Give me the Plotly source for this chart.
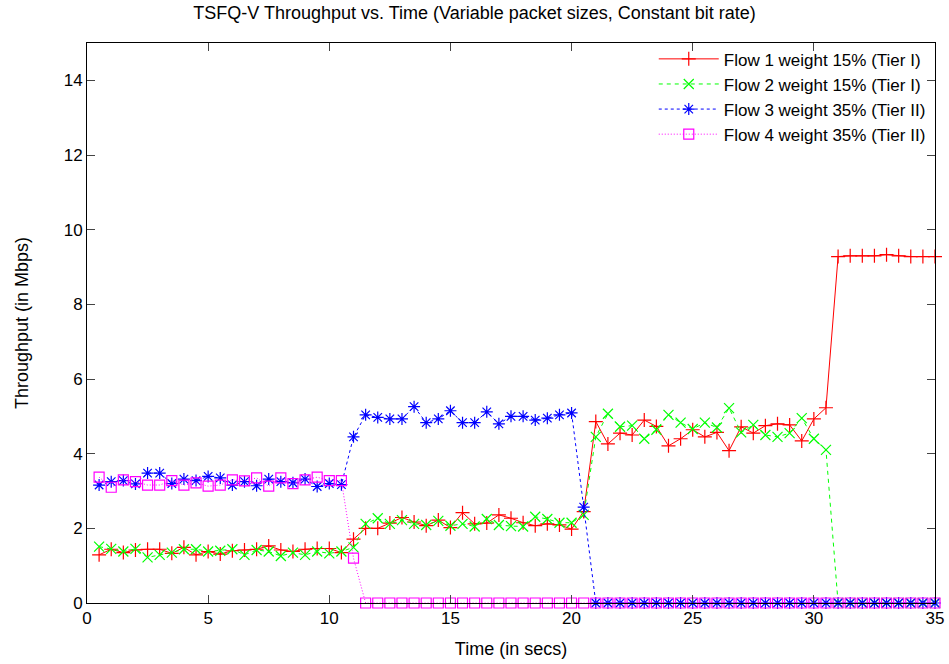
import plotly.graph_objects as go

time_s = [i * 0.5 for i in range(1, 71)]  # 0.5 .. 35.0

flow1 = [1.29, 1.44, 1.35, 1.42, 1.44, 1.44, 1.33, 1.49, 1.29, 1.38,
         1.31, 1.40, 1.42, 1.44, 1.53, 1.42, 1.38, 1.44, 1.46, 1.46,
         1.35, 1.71, 2.00, 2.00, 2.14, 2.29, 2.17, 2.07, 2.22, 2.02,
         2.42, 2.12, 2.14, 2.36, 2.27, 2.15, 2.07, 2.12, 2.09, 1.98,
         2.45, 4.86, 4.26, 4.55, 4.50, 4.90, 4.73, 4.21, 4.40, 4.64,
         4.45, 4.57, 4.08, 4.72, 4.55, 4.75, 4.80, 4.77, 4.34, 4.93,
         5.23, 9.28, 9.30, 9.30, 9.30, 9.33, 9.30, 9.28, 9.28, 9.28]

flow2 = [1.51, 1.45, 1.38, 1.45, 1.22, 1.29, 1.35, 1.44, 1.44, 1.38,
         1.40, 1.44, 1.29, 1.42, 1.38, 1.26, 1.35, 1.29, 1.38, 1.33,
         1.38, 1.49, 2.12, 2.27, 2.12, 2.22, 2.12, 2.09, 2.20, 2.07,
         2.12, 2.05, 2.25, 2.09, 2.06, 2.05, 2.31, 2.25, 2.15, 2.15,
         2.36, 4.45, 5.07, 4.72, 4.75, 4.40, 4.64, 5.04, 4.83, 4.66,
         4.83, 4.70, 5.22, 4.57, 4.77, 4.50, 4.45, 4.55, 4.95, 4.40,
         4.10, 0.00, 0.00, 0.00, 0.00, 0.00, 0.00, 0.00, 0.00, 0.00]

flow3 = [3.16, 3.25, 3.28, 3.19, 3.48, 3.48, 3.20, 3.32, 3.28, 3.39,
         3.35, 3.16, 3.25, 3.14, 3.32, 3.25, 3.22, 3.32, 3.12, 3.20,
         3.17, 4.45, 5.04, 4.97, 4.93, 4.93, 5.26, 4.83, 4.93, 5.15,
         4.83, 4.83, 5.12, 4.80, 5.00, 5.00, 4.90, 4.95, 5.04, 5.09,
         2.57, 0.00, 0.00, 0.00, 0.00, 0.00, 0.00, 0.00, 0.00, 0.00,
         0.00, 0.00, 0.00, 0.00, 0.00, 0.00, 0.00, 0.00, 0.00, 0.00,
         0.00, 0.00, 0.00, 0.00, 0.00, 0.00, 0.00, 0.00, 0.00, 0.00]

flow4 = [3.37, 3.10, 3.30, 3.25, 3.16, 3.16, 3.28, 3.16, 3.22, 3.13,
         3.16, 3.30, 3.27, 3.35, 3.13, 3.35, 3.20, 3.30, 3.37, 3.28,
         3.28, 1.20, 0.00, 0.00, 0.00, 0.00, 0.00, 0.00, 0.00, 0.00,
         0.00, 0.00, 0.00, 0.00, 0.00, 0.00, 0.00, 0.00, 0.00, 0.00,
         0.00, 0.00, 0.00, 0.00, 0.00, 0.00, 0.00, 0.00, 0.00, 0.00,
         0.00, 0.00, 0.00, 0.00, 0.00, 0.00, 0.00, 0.00, 0.00, 0.00,
         0.00, 0.00, 0.00, 0.00, 0.00, 0.00, 0.00, 0.00, 0.00, 0.00]

series_names = ["Flow 1 weight 15% (Tier I)", "Flow 2 weight 15% (Tier I)",
                "Flow 3 weight 35% (Tier II)", "Flow 4 weight 35% (Tier II)"]
x_ticks = [0, 5, 10, 15, 20, 25, 30, 35]
y_ticks = [0, 2, 4, 6, 8, 10, 12, 14]

styles = [
    dict(color="#ff0000", dash="solid", symbol="cross-thin-open", size=10),
    dict(color="#00ff00", dash="4px,4px", symbol="x-thin-open", size=10),
    dict(color="#0000ff", dash="3px,3px", symbol="asterisk-open", size=10),
    dict(color="#ff00ff", dash="1px,2px", symbol="square-open", size=10),
]

fig = go.Figure()
for name, ys, st in zip(series_names, [flow1, flow2, flow3, flow4], styles):
    fig.add_trace(go.Scatter(
        x=time_s, y=ys, name=name, mode="lines+markers", cliponaxis=False,
        line=dict(color=st["color"], dash=st["dash"], width=1),
        marker=dict(symbol=st["symbol"], size=st["size"],
                    line=dict(color=st["color"], width=1.2), color=st["color"]),
    ))

font = "Liberation Sans, Arial, sans-serif"
fig.update_layout(
    width=949, height=664,
    paper_bgcolor="white", plot_bgcolor="white",
    margin=dict(l=87, r=14, t=43, b=61, autoexpand=False),
    font=dict(family=font, size=17, color="black"),
    title=dict(text="TSFQ-V Throughput vs. Time (Variable packet sizes, Constant bit rate)",
               x=0.5, xanchor="center", y=0.99, yanchor="top",
               font=dict(size=18)),
    legend=dict(x=0.995, xanchor="right", y=1.003, yanchor="top",
                bgcolor="rgba(0,0,0,0)", font=dict(size=17),
                tracegroupgap=0, itemwidth=60),
    showlegend=True,
)
fig.update_xaxes(range=[0, 35], tickvals=x_ticks, ticks="inside", ticklen=8,
                 showline=True, linecolor="black", linewidth=1, mirror="ticks",
                 showgrid=False, zeroline=False, automargin=False,
                 title=dict(text="Time (in secs)", standoff=14, font=dict(size=18)),
                 tickfont=dict(size=17))
fig.update_yaxes(range=[0, 15], tickvals=y_ticks, ticks="inside", ticklen=8,
                 showline=True, linecolor="black", linewidth=1, mirror="ticks",
                 showgrid=False, zeroline=False, automargin=False,
                 title=dict(text="Throughput (in Mbps)", standoff=30, font=dict(size=18)),
                 tickfont=dict(size=17))

fig.write_html("out.html")
